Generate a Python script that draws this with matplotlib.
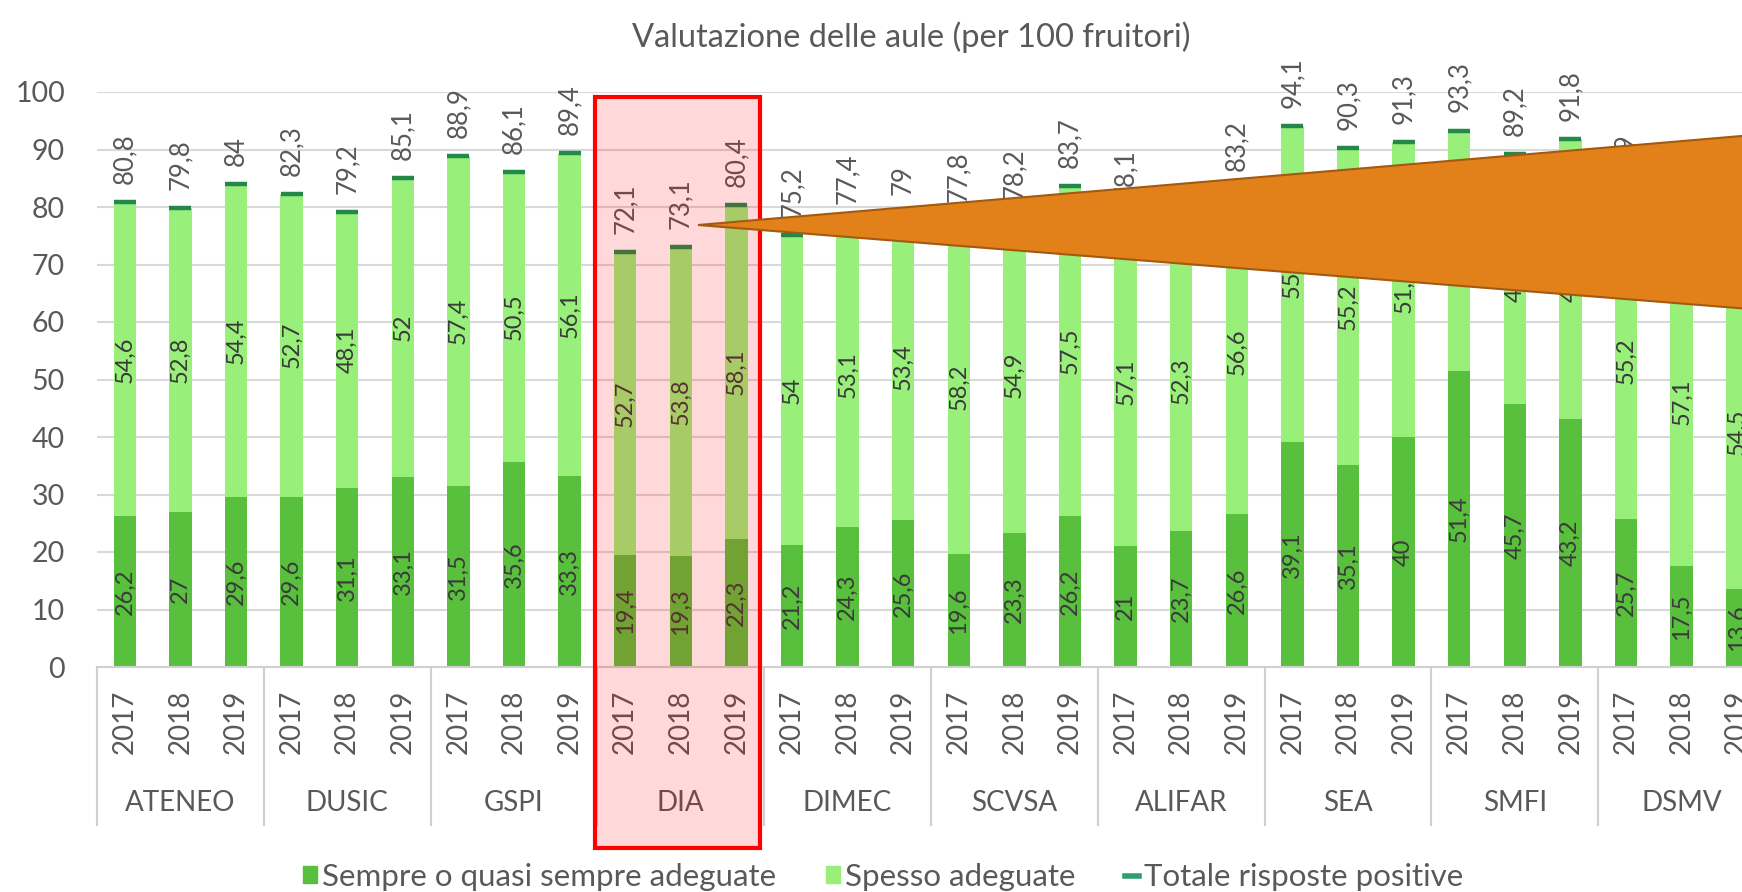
import matplotlib
matplotlib.use("Agg")
from matplotlib import pyplot as plt
from matplotlib.patches import Patch, Rectangle, Polygon
from matplotlib.lines import Line2D

plt.rcParams['font.family'] = ['Lato', 'DejaVu Sans']

# dati
groups = ['ATENEO', 'DUSIC', 'GSPI', 'DIA', 'DIMEC', 'SCVSA', 'ALIFAR', 'SEA', 'SMFI', 'DSMV']
years = ['2017', '2018', '2019']
sempre = [26.2, 27, 29.6, 29.6, 31.1, 33.1, 31.5, 35.6, 33.3, 19.4, 19.3, 22.3,
          21.2, 24.3, 25.6, 19.6, 23.3, 26.2, 21, 23.7, 26.6, 39.1, 35.1, 40,
          51.4, 45.7, 43.2, 25.7, 17.5, 13.6]
spesso = [54.6, 52.8, 54.4, 52.7, 48.1, 52, 57.4, 50.5, 56.1, 52.7, 53.8, 58.1,
          54, 53.1, 53.4, 58.2, 54.9, 57.5, 57.1, 52.3, 56.6, 55, 55.2, 51.3,
          41.9, 43.5, 48.6, 55.2, 57.1, 54.5]
totale = [80.8, 79.8, 84, 82.3, 79.2, 85.1, 88.9, 86.1, 89.4, 72.1, 73.1, 80.4,
          75.2, 77.4, 79, 77.8, 78.2, 83.7, 78.1, 76, 83.2, 94.1, 90.3, 91.3,
          93.3, 89.2, 91.8, 80.9, 74.6, 68.1]

c_dark = '#58C03C'
c_light = '#98F07A'
c_tot = '#23884A'
c_txt = '#595959'


def fmt(v):
    s = ('%.1f' % v).replace('.', ',')
    if s.endswith(',0'):
        s = s[:-2]
    return s


W, H = 1742, 892
fig = plt.figure(figsize=(W / 100, H / 100), dpi=100)
ax = fig.add_axes([97 / W, 1 - 667 / H, 30 * 55.6 / W, 575 / H])

x = list(range(len(sempre)))
ax.bar(x, sempre, width=0.4, color=c_dark, zorder=2)
ax.bar(x, spesso, width=0.4, bottom=sempre, color=c_light, zorder=2)
ax.plot(x, totale, linestyle='none', marker='_', markersize=16, mew=3.2, color=c_tot, zorder=3)

for i in x:
    ax.text(i, sempre[i] / 2, fmt(sempre[i]), rotation=90, ha='center', va='center',
            fontsize=17, color='#3a3a3a', zorder=4)
    ax.text(i, sempre[i] + spesso[i] / 2, fmt(spesso[i]), rotation=90, ha='center', va='center',
            fontsize=17, color='#3a3a3a', zorder=4)
    ax.annotate(fmt(totale[i]), (i, totale[i]), xytext=(0, 13), textcoords='offset points',
                rotation=90, ha='center', va='bottom', fontsize=18.5, color=c_txt, zorder=4)

ax.set_ylim(0, 100)
ax.set_xlim(-0.5, len(x) - 0.5)
ax.set_yticks(range(0, 101, 10))
ax.yaxis.grid(True, color='#D9D9D9', lw=1.5, zorder=0)
ax.set_axisbelow(True)
for s in ['top', 'right', 'left']:
    ax.spines[s].set_visible(False)
ax.spines['bottom'].set_color('#D0D0D0')
ax.spines['bottom'].set_linewidth(1.5)
ax.tick_params(axis='y', length=0, pad=23, labelsize=20.5, labelcolor=c_txt)
ax.set_xticks(x)
ax.set_xticklabels(years * len(groups), rotation=90)
ax.tick_params(axis='x', length=0, pad=16, labelsize=20, labelcolor=c_txt)

# separatori e etichette dei gruppi
tr = ax.get_xaxis_transform()
for k in range(len(groups) + 1):
    ax.plot([3 * k - 0.5, 3 * k - 0.5], [0, -0.275], color='#D0D0D0', lw=1.5,
            transform=tr, clip_on=False)
for k, g in enumerate(groups):
    ax.text(3 * k + 1, -0.237, g, transform=tr, ha='center', va='center',
            fontsize=20, color=c_txt)

fig.text(911 / W, 1 - 37 / H, 'Valutazione delle aule (per 100 fruitori)', ha='center', va='center',
         fontsize=23.5, color=c_txt)

handles = [Patch(color=c_dark), Patch(color=c_light),
           Line2D([], [], color='#2E9E70', lw=4)]
labels = ['Sempre o quasi sempre adeguate', 'Spesso adeguate', 'Totale risposte positive']
fig.legend(handles, labels, loc='center', bbox_to_anchor=(0.507, 1 - 877 / H), ncol=3,
           frameon=False, fontsize=22.5, labelcolor=c_txt, handlelength=0.45, handleheight=0.45,
           handletextpad=0.15, columnspacing=1.6)

# evidenziazione DIA
fig.patches.append(Rectangle((595 / W, 1 - 848 / H), 165 / W, 751 / H, transform=fig.transFigure,
                             facecolor=(1, 0, 0, 0.15), edgecolor='red', lw=3, zorder=10))
# freccia arancione
pts = [(698, 225), (1800, 131), (1800, 313)]
fig.patches.append(Polygon([(px / W, 1 - py / H) for px, py in pts], closed=True,
                           transform=fig.transFigure, facecolor='#E2801A', edgecolor='#A35A10',
                           lw=1.5, zorder=11))

fig.savefig('out.png', dpi=100)
